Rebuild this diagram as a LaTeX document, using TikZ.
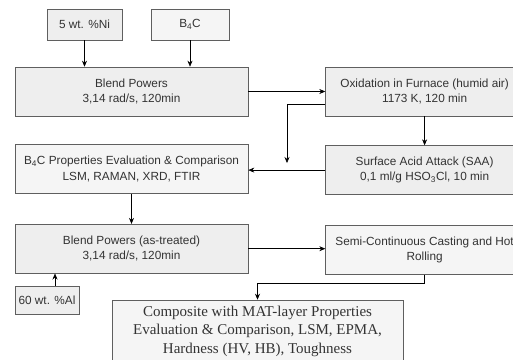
\documentclass[tikz,border=0pt]{standalone}
\usepackage{fontspec}
\setmainfont{Liberation Sans}
\newfontfamily\compfont{Liberation Serif}
\usetikzlibrary{positioning,arrows.meta,calc}

\definecolor{boxfill}{HTML}{EEEEEE}
\definecolor{lightfill}{HTML}{F5F5F5}
\definecolor{boxline}{HTML}{5F5F5F}
\definecolor{boxtext}{HTML}{333333}

\begin{document}
\begin{tikzpicture}[
    x=1pt, y=-1pt,
    font=\fontsize{11.8}{15.5}\selectfont,
    box/.style={draw=boxline, fill=boxfill, text=boxtext, align=center,
                inner sep=2pt, semithick},
    stepbox/.style={box, minimum width=233pt, minimum height=49pt},
    sidebox/.style={box, minimum width=198pt, minimum height=49pt},
    inbox/.style={box, minimum height=31pt},
    arr/.style={-{Stealth[length=6pt,width=5pt]}, semithick}
  ]
  \useasboundingbox (0,0) rectangle (513,359);
  \clip (0,0) rectangle (513,359);

  % ===== left column =====
  \node[stepbox] (blend) at (131.5,91.5)
    {Blend Powers \\ 3,14 rad/s, 120min};
  \node[stepbox, fill=lightfill, below=28pt of blend] (props)
    {B\textsubscript{4}C Properties Evaluation \& Comparison \\ LSM, RAMAN, XRD, FTIR};
  \node[stepbox, below=30pt of props] (blend2)
    {Blend Powers (as-treated) \\ 3,14 rad/s, 120min};

  % ===== right column =====
  \node[sidebox, right=77pt of blend] (ox)
    {Oxidation in Furnace (humid air) \\ 1173 K, 120 min};
  \node[sidebox, below=29pt of ox] (saa)
    {Surface Acid Attack (SAA) \\ 0,1 ml/g HSO\textsubscript{3}Cl, 10 min};
  \node[sidebox, fill=lightfill, below=30pt of saa] (semi)
    {Semi-Continuous Casting and Hot \\ Rolling};

  % ===== inputs =====
  \node[inbox, minimum width=75pt] (ni) at (84.5,24.5) {5 wt. \%Ni};
  \node[inbox, minimum width=78pt, fill=lightfill] (bc) at (190,24.5)
    {B\textsubscript{4}C};
  \node[box, minimum width=64pt, minimum height=28pt] (al) at (47,300)
    {60 wt. \%Al};

  % ===== final result =====
  \node[box, fill=lightfill, minimum width=291pt, minimum height=62pt,
        font=\compfont\fontsize{15}{18.5}\selectfont] (comp) at (257.5,331)
    {Composite with MAT-layer Properties \\
     Evaluation \& Comparison, LSM, EPMA, \\
     Hardness (HV, HB), Toughness};

  \coordinate (join) at (287,163);

  \draw[arr] (ni.south) -- (ni.south |- blend.north);
  \draw[arr] (bc.south) -- (bc.south |- blend.north);
  \draw[arr] (blend.east) -- (ox.west);
  \draw[arr] (ox.south) -- (saa.north);
  \draw[arr] ([yshift=-12.5pt]ox.west) -| (join);
  \draw[arr] (saa.west) -- (saa.west -| props.east);
  \draw[arr] (props.south) -- (blend2.north);
  \draw[arr] ([xshift=8pt]al.north) -- ([xshift=8pt]al.north |- blend2.south);
  \draw[arr] (blend2.east) -- (blend2.east -| semi.west);
  \draw[arr] (semi.south) -- ++(0,9) -| (comp.north);

\end{tikzpicture}
\end{document}
